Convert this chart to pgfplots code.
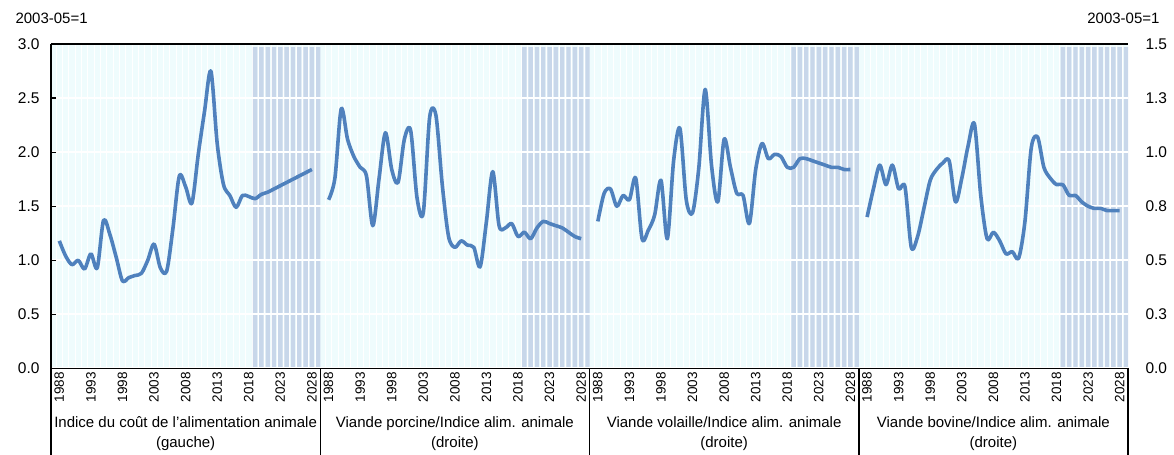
\documentclass[border=0pt]{standalone}
\usepackage{fontspec}
\setmainfont{Liberation Sans}
\usepackage{pgfplots}
\usepackage{pgfplotstable}
\pgfplotsset{compat=1.18}
\definecolor{bgcyan}{HTML}{EFFCFD}
\definecolor{shadeblue}{HTML}{C8D7EA}
\definecolor{lineblue}{HTML}{4F81BD}

% left-scale: feed ; right-scale: pork, poultry, beef
\pgfplotstableread{
year feed pork poultry beef
1988 1.18 0.78 0.68 0.70
1989 1.04 0.88 0.81 0.83
1990 0.96 1.20 0.83 0.94
1991 1.00 1.06 0.75 0.85
1992 0.92 0.98 0.80 0.94
1993 1.06 0.93 0.78 0.83
1994 0.93 0.89 0.88 0.84
1995 1.37 0.66 0.60 0.56
1996 1.24 0.88 0.64 0.61
1997 1.03 1.09 0.71 0.74
1998 0.81 0.92 0.87 0.87
1999 0.84 0.86 0.60 0.92
2000 0.86 1.06 0.96 0.95
2001 0.88 1.10 1.11 0.96
2002 1.00 0.79 0.78 0.77
2003 1.15 0.72 0.72 0.88
2004 0.93 1.16 0.93 1.03
2005 0.90 1.17 1.29 1.13
2006 1.30 0.85 0.94 0.80
2007 1.78 0.61 0.77 0.60
2008 1.68 0.56 1.06 0.63
2009 1.53 0.59 0.93 0.59
2010 1.98 0.57 0.81 0.53
2011 2.38 0.56 0.80 0.54
2012 2.75 0.47 0.67 0.51
2013 2.08 0.68 0.92 0.68
2014 1.70 0.91 1.04 1.02
2015 1.60 0.66 0.97 1.07
2016 1.49 0.65 0.99 0.93
2017 1.60 0.67 0.98 0.88
2018 1.59 0.61 0.93 0.85
2019 1.57 0.63 0.93 0.85
2020 1.61 0.60 0.97 0.80
2021 1.63 0.65 0.97 0.80
2022 1.66 0.68 0.96 0.77
2023 1.69 0.67 0.95 0.75
2024 1.72 0.66 0.94 0.74
2025 1.75 0.65 0.93 0.74
2026 1.78 0.63 0.93 0.73
2027 1.81 0.61 0.92 0.73
2028 1.84 0.60 0.92 0.73
}\datatable

% projection shading (background bars)
\pgfplotstableread{
year top
2019 2.97
2020 2.97
2021 2.97
2022 2.97
2023 2.97
2024 2.97
2025 2.97
2026 2.97
2027 2.97
2028 2.97
2029 2.97
}\projtable

\begin{document}
\begin{tikzpicture}
\useasboundingbox (-51pt,-86pt) rectangle (1123pt,368.5pt);
\pgfplotsset{base/.style={scale only axis, width=1077pt, height=324.5pt,
  at={(0pt,0pt)}, anchor=south west, xmin=0, xmax=168, ymin=0, clip=false}}

% ---------- background layer
\begin{axis}[base, ymax=3,
  axis background/.style={fill=bgcyan},
  axis line style={draw=none},
  ytick=\empty,
  xtick={0.8075,1.7925,...,41.3,42.8075,43.7925,...,83.3,84.8075,85.7925,...,125.3,126.8075,127.7925,...,167.3},
  xticklabel={\relax},
  major tick length=0pt, tick style={draw=none},
  xmajorgrids, major grid style={white, line width=0.7pt}]
\pgfplotsinvokeforeach{0,1,2,3}{
\addplot[ybar, bar width=0.68, bar shift=0pt, fill=shadeblue, draw=none]
  table[x expr={42*#1+1.3+0.985*(\thisrow{year}-1988)}, y=top]{\projtable};
}
\end{axis}

% ---------- left axis
\begin{axis}[base, ymax=3,
  axis x line*=bottom, axis y line*=left,
  axis line style={line width=1.5pt, black},
  ytick={0,0.5,...,3},
  /pgf/number format/assume math mode=true,
  yticklabel style={/pgf/number format/fixed, /pgf/number format/fixed zerofill,
    /pgf/number format/precision=1, font=\fontsize{15.5}{18}\selectfont, xshift=-8pt},
  tick align=inside, major tick length=5pt,
  ytick style={black, line width=1.2pt},
  xtick style={draw=none},
  ymajorgrids, major grid style={white, line width=2pt},
  xtick={1.3,6.225,11.15,16.075,21,25.925,30.85,35.775,40.7,
         43.3,48.225,53.15,58.075,63,67.925,72.85,77.775,82.7,
         85.3,90.225,95.15,100.075,105,109.925,114.85,119.775,124.7,
         127.3,132.225,137.15,142.075,147,151.925,156.85,161.775,166.7},
  xticklabels={1988,1993,1998,2003,2008,2013,2018,2023,2028,
               1988,1993,1998,2003,2008,2013,2018,2023,2028,
               1988,1993,1998,2003,2008,2013,2018,2023,2028,
               1988,1993,1998,2003,2008,2013,2018,2023,2028},
  xticklabel style={rotate=90, anchor=east, font=\fontsize{13.5}{15}\selectfont},
]
\addplot[lineblue, line width=3.6pt, smooth, line join=round]
  table[x expr={1.3+0.985*(\thisrow{year}-1988)}, y=feed]{\datatable};
\pgfplotsinvokeforeach{0,42,84,126,168}{
  \draw[black, line width=1.5pt] (axis cs:#1,0) -- ++(0,-86pt);
}
\node[align=center, anchor=north, font=\fontsize{15}{20}\selectfont] at (axis cs:21,0) [yshift=-45pt]
  {Indice du coût de l'alimentation animale\\(gauche)};
\node[align=center, anchor=north, font=\fontsize{15}{20}\selectfont] at (axis cs:63,0) [yshift=-45pt]
  {Viande porcine/Indice alim. animale\\(droite)};
\node[align=center, anchor=north, font=\fontsize{15}{20}\selectfont] at (axis cs:105,0) [yshift=-45pt]
  {Viande volaille/Indice alim. animale\\(droite)};
\node[align=center, anchor=north, font=\fontsize{15}{20}\selectfont] at (axis cs:147,0) [yshift=-45pt]
  {Viande bovine/Indice alim. animale\\(droite)};
\node[anchor=west, font=\fontsize{15}{18}\selectfont] at (rel axis cs:0,1) [xshift=-39pt, yshift=25.5pt] {2003-05=1};
\end{axis}

% ---------- right axis
\begin{axis}[base, ymax=1.5,
  axis x line*=top, axis y line*=right,
  x axis line style={line width=1.5pt, black},
  y axis line style={draw=none},
  xtick=\empty,
  ytick={0,0.25,...,1.5},
  yticklabels={0.0,0.3,0.5,0.8,1.0,1.3,1.5},
  ytick style={draw=none},
  yticklabel style={font=\fontsize{15.5}{18}\selectfont, anchor=west, xshift=14pt},
]
\addplot[lineblue, line width=3.6pt, smooth, line join=round]
  table[x expr={42+1.3+0.985*(\thisrow{year}-1988)}, y=pork]{\datatable};
\addplot[lineblue, line width=3.6pt, smooth, line join=round]
  table[x expr={84+1.3+0.985*(\thisrow{year}-1988)}, y=poultry]{\datatable};
\addplot[lineblue, line width=3.6pt, smooth, line join=round]
  table[x expr={126+1.3+0.985*(\thisrow{year}-1988)}, y=beef]{\datatable};
\node[anchor=east, font=\fontsize{15}{18}\selectfont] at (rel axis cs:1,1) [xshift=35pt, yshift=25.5pt] {2003-05=1};
\end{axis}
\end{tikzpicture}
\end{document}
